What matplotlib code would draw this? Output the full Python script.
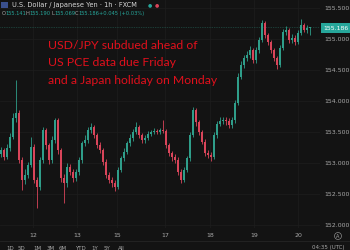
import matplotlib
matplotlib.use("Agg")
import matplotlib.pyplot as plt
import numpy as np

# USD/JPY 1h candles (close / high / low), open = previous close
closes = [153.21, 153.10, 153.24, 153.42, 153.73, 153.81, 153.05, 152.73, 152.81, 152.97,
          153.26, 152.73, 152.61, 153.05, 153.53, 153.29, 153.05, 153.37, 153.69, 153.21,
          152.76, 152.68, 152.94, 152.85, 152.76, 152.85, 153.05, 153.32, 153.37, 153.53,
          153.58, 153.45, 153.29, 153.21, 153.02, 152.81, 152.73, 152.68, 152.61, 152.89,
          153.08, 153.18, 153.32, 153.40, 153.50, 153.58, 153.45, 153.37, 153.40, 153.47,
          153.50, 153.52, 153.50, 153.53, 153.52, 153.29, 153.16, 153.10, 153.05, 152.85,
          152.73, 152.89, 153.08, 153.45, 153.85, 153.66, 153.50, 153.34, 153.16, 153.13,
          153.10, 153.45, 153.63, 153.68, 153.69, 153.68, 153.61, 153.69, 153.97, 154.39,
          154.58, 154.69, 154.74, 154.82, 154.66, 154.82, 154.98, 155.26, 155.06, 154.95,
          154.82, 154.69, 154.58, 154.85, 155.11, 155.15, 154.98, 155.02, 154.95, 155.10,
          155.23, 155.15, 155.18, 155.186]
highs = [153.26, 153.25, 153.30, 153.48, 153.80, 154.34, 153.86, 153.10, 152.90, 153.02,
         153.42, 153.30, 152.78, 153.10, 153.58, 153.57, 153.33, 153.44, 153.73, 153.72,
         153.25, 152.82, 153.00, 152.99, 152.90, 152.91, 153.10, 153.36, 153.45, 153.58,
         153.64, 153.62, 153.49, 153.34, 153.25, 153.06, 152.86, 152.78, 152.72, 152.94,
         153.12, 153.24, 153.36, 153.46, 153.55, 153.66, 153.61, 153.48, 153.45, 153.51,
         153.54, 153.56, 153.55, 153.57, 153.69, 153.55, 153.33, 153.20, 153.14, 153.09,
         152.90, 152.94, 153.12, 153.50, 153.90, 153.88, 153.70, 153.54, 153.38, 153.21,
         153.18, 153.50, 153.68, 153.74, 153.75, 153.74, 153.72, 153.74, 154.02, 154.45,
         154.64, 154.75, 154.80, 154.88, 154.86, 154.87, 155.04, 155.31, 155.29, 155.10,
         154.99, 154.86, 154.73, 154.90, 155.16, 155.21, 155.18, 155.08, 155.06, 155.14,
         155.33, 155.26, 155.22, 155.19]
lows = [153.10, 153.05, 153.06, 153.20, 153.38, 153.66, 153.00, 152.56, 152.66, 152.76,
        152.93, 152.68, 152.27, 152.56, 153.00, 153.22, 152.98, 153.00, 153.32, 153.15,
        152.70, 152.35, 152.62, 152.80, 152.70, 152.71, 152.81, 153.00, 153.28, 153.33,
        153.49, 153.40, 153.24, 153.16, 152.97, 152.76, 152.68, 152.62, 152.55, 152.58,
        152.85, 153.04, 153.14, 153.28, 153.36, 153.46, 153.40, 153.32, 153.33, 153.37,
        153.44, 153.47, 153.46, 153.47, 153.48, 153.24, 153.12, 153.04, 153.00, 152.80,
        152.68, 152.70, 152.85, 153.04, 153.42, 153.60, 153.45, 153.30, 153.11, 153.08,
        153.04, 153.07, 153.41, 153.59, 153.63, 153.62, 153.56, 153.57, 153.65, 153.94,
        154.35, 154.54, 154.64, 154.70, 154.61, 154.62, 154.78, 154.95, 155.01, 154.90,
        154.77, 154.64, 154.52, 154.55, 154.82, 155.07, 154.93, 154.94, 154.90, 154.92,
        155.06, 155.11, 155.10, 155.07]
first_open = 153.15

day_labels = ["12", "13", "15", "17", "18", "19", "20"]
day_pos = [10.7, 25.3, 38.7, 54.7, 69.7, 84.3, 99.0]
price_ticks = [152.0, 152.5, 153.0, 153.5, 154.0, 154.5, 155.0, 155.5]
last_price = 155.186
ohlc_vals = ["155.141", "155.190", "155.069", "155.186"]
change = "+0.045 (+0.03%)"

BG = "#131313"
UP = "#2f9e8a"
DOWN = "#d9455a"
GRID = "#1e1e1e"
TXT = "#a8a8a8"

W, H = 350, 250


def fx(x):
    return x / W


def fy(y):
    return 1 - y / H


closes = np.array(closes)
opens = np.concatenate([[first_open], closes[:-1]])
highs = np.array(highs)
lows = np.array(lows)
idx = np.arange(len(closes))
up = closes >= opens

fig = plt.figure(figsize=(3.5, 2.5), dpi=100, facecolor=BG)
ax = fig.add_axes([0, fy(228), fx(320), 228 / H])
ax.set_facecolor(BG)

colors = np.where(up, UP, DOWN)
ax.vlines(idx, lows, highs, colors=colors, lw=0.6, zorder=3)
body_lo = np.minimum(opens, closes)
body_h = np.maximum(np.abs(closes - opens), 0.012)
ax.bar(idx, body_h, bottom=body_lo, width=0.7, color=colors, lw=0, zorder=4)

ax.axhline(last_price, color=UP, lw=0.5, ls=(0, (1, 1.5)), alpha=0.6, zorder=2)

ax.set_xlim(-0.33, 106.33)
ax.set_ylim(151.952, 155.629)
ax.set_yticks(price_ticks)
ax.set_yticklabels(["%.3f" % p for p in price_ticks])
ax.yaxis.tick_right()
ax.set_xticks(day_pos)
ax.set_xticklabels(day_labels)
ax.tick_params(axis="both", length=0, labelsize=4.5, colors=TXT)
ax.tick_params(axis="y", pad=3)
ax.tick_params(axis="x", pad=3.5)
ax.grid(color=GRID, lw=0.5)
ax.set_axisbelow(True)
for s in ax.spines.values():
    s.set_visible(False)

# current price tag
fig.text(fx(336), fy(28), "%.3f" % last_price, fontsize=4.5, color="white",
         ha="center", va="center",
         bbox=dict(boxstyle="square,pad=0.35", fc="#26a69a", ec="none"))

# header
fig.patches.append(plt.Rectangle((fx(1), fy(8)), 7 / W, 6 / H, transform=fig.transFigure,
                                 fc="#3a4f8c", ec="none"))
fig.text(fx(12), fy(4.5), "U.S. Dollar / Japanese Yen · 1h · FXCM", fontsize=4.8,
         color="#d8d8d8", ha="left", va="center")
fig.text(fx(150), fy(4.5), "●", fontsize=3.5, color="#26a69a", ha="center", va="center")
fig.text(fx(157), fy(4.5), "●", fontsize=3.5, color="#d9455a", ha="center", va="center")

for letter, val, x in zip("OHLC", ohlc_vals, [2, 26, 51, 75]):
    fig.text(fx(x), fy(13.5), letter, fontsize=3.7, color=TXT, ha="left", va="center")
    fig.text(fx(x + 3.5), fy(13.5), val, fontsize=3.7, color="#26a69a", ha="left", va="center")
fig.text(fx(99), fy(13.5), change, fontsize=3.7, color="#26a69a", ha="left", va="center")

# headline
headline = ["USD/JPY subdued ahead of", "US PCE data due Friday",
            "and a Japan holiday on Monday"]
for k, line in enumerate(headline):
    fig.text(fx(48), fy(46 + 17 * k), line, fontsize=8.8, color="#e0101c",
             family="Lato", ha="left", va="center")

# bottom bar
fig.add_artist(plt.Line2D([0, 1], [fy(241), fy(241)], color="#262626", lw=0.6))
ranges = [("1D", 10), ("5D", 21), ("1M", 37), ("3M", 51), ("6M", 63),
          ("YTD", 80), ("1Y", 95), ("5Y", 107), ("All", 121)]
for lab, x in ranges:
    fig.text(fx(x), fy(248), lab, fontsize=4.0, color=TXT, ha="center", va="center")
fig.text(fx(345), fy(248), "04:35 (UTC)", fontsize=4.0, color=TXT, ha="right", va="center")
fig.text(fx(338), fy(236), "A", fontsize=3.5, color=TXT, ha="center", va="center",
         bbox=dict(boxstyle="circle,pad=0.2", fc="none", ec=TXT, lw=0.4))

fig.savefig("out.png", dpi=100, facecolor=BG)
